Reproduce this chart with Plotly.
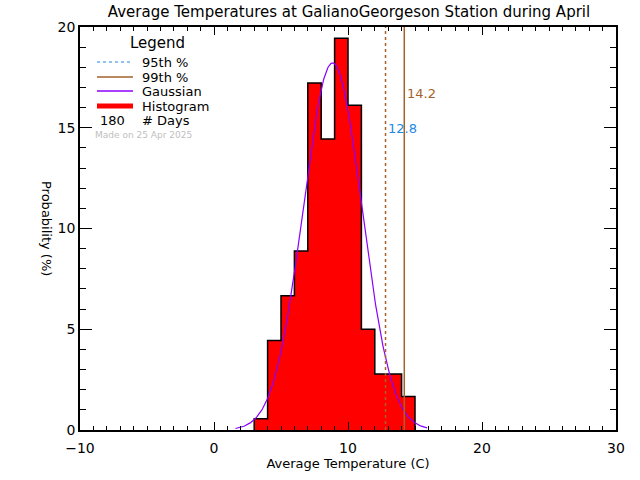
import numpy as np
import plotly.graph_objects as go

# ---- data ----
bin_left = [3, 4, 5, 6, 7, 8, 9, 10, 11, 12, 13, 14]
day_counts = [1, 8, 12, 16, 31, 26, 35, 29, 9, 5, 5, 3]
n_days = 180
p95 = 12.8
p99 = 14.2
gauss_mean = 8.85
gauss_sigma = 2.19
gauss_lo, gauss_hi = 1.6, 15.9

prob = [c / n_days * 100 for c in day_counts]
centers = [b + 0.5 for b in bin_left]

FONT = "DejaVu Sans"
BROWN = "#A5622A"
BLUE = "#1E88E5"
PURPLE = "#8A00FF"

fig = go.Figure()

# histogram fill
fig.add_trace(go.Bar(x=centers, y=prob, width=1.0, marker=dict(color="#FF0000", line=dict(width=0)),
                     showlegend=False, hoverinfo="skip"))

# step outline
sx = [bin_left[0]] + bin_left + [bin_left[-1] + 1, bin_left[-1] + 1]
sy = [0] + prob + [prob[-1], 0]
fig.add_trace(go.Scatter(x=sx, y=sy, mode="lines", line=dict(color="black", width=1.5, shape="hv"),
                         showlegend=False, hoverinfo="skip"))

# gaussian
gx = np.linspace(gauss_lo, gauss_hi, 300)
gy = 100 / (gauss_sigma * np.sqrt(2 * np.pi)) * np.exp(-0.5 * ((gx - gauss_mean) / gauss_sigma) ** 2)
fig.add_trace(go.Scatter(x=gx, y=gy, mode="lines", line=dict(color=PURPLE, width=1.2),
                         showlegend=False, hoverinfo="skip"))

# percentile lines
fig.add_trace(go.Scatter(x=[p95, p95], y=[0, 20], mode="lines",
                         line=dict(color=BROWN, width=1.5, dash="dot"), showlegend=False, hoverinfo="skip"))
fig.add_trace(go.Scatter(x=[p99, p99], y=[0, 20], mode="lines",
                         line=dict(color=BROWN, width=1.5), showlegend=False, hoverinfo="skip"))

ann = []
ann.append(dict(x=p99 + 0.05, y=16.72, text="14.2", showarrow=False, xanchor="left", yanchor="middle",
                font=dict(family=FONT, size=13, color=BROWN)))
ann.append(dict(x=p95 + 0.04, y=14.94, text="12.8", showarrow=False, xanchor="left", yanchor="middle",
                font=dict(family=FONT, size=13, color=BLUE)))

# legend block (pixel-positioned decorations)
def px2x(px):
    return (px - 214) / 13.4

def py2y(py):
    return (430 - py) / 20.15

shapes = []
rows = [
    (62, "95th %", dict(color=BLUE, width=1.2, dash="dot")),
    (77, "99th %", dict(color=BROWN, width=1.5)),
    (91, "Gaussian", dict(color=PURPLE, width=1.5)),
    (106, "Histogram", dict(color="#FF0000", width=5)),
]
for py, label, ln in rows:
    shapes.append(dict(type="line", xref="x", yref="y", x0=px2x(97), x1=px2x(133), y0=py2y(py), y1=py2y(py),
                       line=ln))
    ann.append(dict(x=px2x(140), y=py2y(py), text=label, showarrow=False, xanchor="left", yanchor="middle",
                    font=dict(family=FONT, size=13, color="black")))
ann.append(dict(x=px2x(157), y=py2y(43), text="Legend", showarrow=False, xanchor="center", yanchor="middle",
                font=dict(family=FONT, size=15, color="black")))
ann.append(dict(x=px2x(112), y=py2y(120), text=str(n_days), showarrow=False, xanchor="center", yanchor="middle",
                font=dict(family=FONT, size=13, color="black")))
ann.append(dict(x=px2x(140), y=py2y(120), text="# Days", showarrow=False, xanchor="left", yanchor="middle",
                font=dict(family=FONT, size=13, color="black")))
ann.append(dict(x=px2x(93), y=py2y(135), text="Made on 25 Apr 2025", showarrow=False, xanchor="left",
                yanchor="middle", font=dict(family=FONT, size=9, color="#C0C0C0")))

# y axis title (reads top to bottom)
ann.append(dict(xref="paper", yref="paper", x=(47 - 80) / 536, y=(430 - 228) / 403, text="Probability (%)",
                textangle=90, showarrow=False, xanchor="center", yanchor="middle",
                font=dict(family=FONT, size=13, color="black")))

fig.update_layout(
    width=640, height=480,
    margin=dict(l=80, r=24, t=27, b=50),
    paper_bgcolor="white", plot_bgcolor="white",
    bargap=0,
    title=dict(text="Average Temperatures at GalianoGeorgeson Station during April", x=349 / 640,
               xanchor="center", y=1 - 12 / 480, yanchor="middle",
               font=dict(family=FONT, size=15, color="black")),
    xaxis=dict(range=[-10, 30], tickvals=[-10, 0, 10, 20, 30], ticks="inside", ticklen=8, tickwidth=1,
               tickcolor="black", showline=True, linecolor="black", linewidth=1.5, mirror="ticks",
               showgrid=False, zeroline=False, ticklabelstandoff=4,
               minor=dict(dtick=1, ticks="inside", ticklen=4, tickcolor="black", showgrid=False),
               tickfont=dict(family=FONT, size=14, color="black"),
               title=dict(text="Average Temperature (C)", font=dict(family=FONT, size=13, color="black"),
                          standoff=4)),
    yaxis=dict(range=[0, 20], tickvals=[0, 5, 10, 15, 20], ticks="inside", ticklen=12, tickwidth=1,
               tickcolor="black", showline=True, linecolor="black", linewidth=1.5, mirror="ticks",
               showgrid=False, zeroline=False,
               minor=dict(dtick=1, ticks="inside", ticklen=6, tickcolor="black", showgrid=False),
               tickfont=dict(family=FONT, size=14, color="black")),
    shapes=shapes,
    annotations=ann,
    showlegend=False,
)

fig.write_html("out.html", config={"displayModeBar": False},
               post_script="document.body.style.margin='0';document.body.style.padding='0';")
